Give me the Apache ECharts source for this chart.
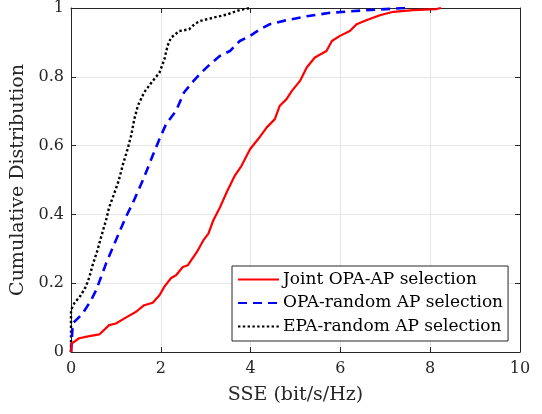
<!DOCTYPE html>
<html>
<head>
<meta charset="utf-8">
<script src="https://cdn.jsdelivr.net/npm/echarts@6/dist/echarts.min.js"></script>
<style>html,body{margin:0;padding:0;background:#fff}#c{width:542px;height:414px}</style>
</head>
<body>
<div id="c"></div>
<script>
const seriesNames = ['Joint OPA-AP selection', 'OPA-random AP selection', 'EPA-random AP selection'];
const xTicks = [0, 2, 4, 6, 8, 10];
const yTicks = [0, 0.2, 0.4, 0.6, 0.8, 1];

const jointX = [0, 0.02, 0.18, 0.41, 0.63, 0.85, 1.0, 1.22, 1.45, 1.63, 1.82, 1.97, 2.08, 2.23, 2.34, 2.49, 2.60, 2.80, 2.95, 3.06, 3.17, 3.32, 3.47, 3.65, 3.80, 3.99, 4.17, 4.36, 4.54, 4.65, 4.80, 4.92, 5.10, 5.25, 5.43, 5.69, 5.81, 5.99, 6.21, 6.36, 6.59, 6.88, 7.18, 7.62, 8.14, 8.24];
const jointY = [0, 0.025, 0.04, 0.046, 0.051, 0.078, 0.083, 0.10, 0.117, 0.136, 0.143, 0.165, 0.19, 0.215, 0.223, 0.247, 0.252, 0.29, 0.325, 0.344, 0.383, 0.421, 0.465, 0.513, 0.542, 0.59, 0.619, 0.653, 0.677, 0.716, 0.735, 0.759, 0.788, 0.827, 0.856, 0.875, 0.904, 0.919, 0.933, 0.953, 0.965, 0.979, 0.989, 0.994, 0.997, 1.0];

const opaX = [0, 0.04, 0.26, 0.45, 0.56, 0.67, 0.78, 1.0, 1.22, 1.37, 1.60, 1.82, 1.97, 2.12, 2.34, 2.52, 2.73, 2.87, 3.10, 3.32, 3.54, 3.76, 3.99, 4.21, 4.43, 4.78, 5.25, 5.77, 6.51, 7.18, 7.44];
const opaY = [0, 0.083, 0.112, 0.151, 0.18, 0.218, 0.257, 0.325, 0.392, 0.431, 0.499, 0.571, 0.619, 0.663, 0.701, 0.755, 0.788, 0.808, 0.837, 0.861, 0.875, 0.904, 0.919, 0.938, 0.953, 0.964, 0.976, 0.986, 0.993, 0.998, 1.0];

const epaX = [0, 0, 0.07, 0.22, 0.33, 0.41, 0.48, 0.59, 0.67, 0.78, 0.85, 0.96, 1.06, 1.15, 1.26, 1.34, 1.41, 1.49, 1.63, 1.82, 1.97, 2.08, 2.15, 2.23, 2.41, 2.63, 2.75, 2.87, 3.17, 3.47, 3.76, 3.99];
const epaY = [0, 0.122, 0.141, 0.165, 0.19, 0.218, 0.252, 0.296, 0.334, 0.383, 0.421, 0.46, 0.497, 0.542, 0.59, 0.629, 0.677, 0.716, 0.755, 0.788, 0.812, 0.851, 0.89, 0.914, 0.933, 0.938, 0.953, 0.962, 0.972, 0.981, 0.994, 1.0];

const pairs = (xs, ys) => xs.map((x, i) => [x, ys[i]]);
const FONT = 'DejaVu Serif';
const AX = '#262626';

const chart = echarts.init(document.getElementById('c'), null, {renderer: 'canvas'});
const baseAxis = {
  type: 'value',
  axisLine: {show: true, onZero: false, lineStyle: {color: AX, width: 1}},
  axisTick: {show: true, inside: true, length: 5, lineStyle: {color: AX}},
  splitLine: {show: false},
};
chart.setOption({
  backgroundColor: '#fff',
  animation: false,
  grid: {left: 71, right: 22, top: 7, bottom: 62, containLabel: false},
  xAxis: [
    Object.assign({}, baseAxis, {
      min: 0, max: 10, interval: 2,
      name: 'SSE (bit/s/Hz)', nameLocation: 'middle', nameGap: 34,
      nameTextStyle: {fontFamily: FONT, fontSize: 19, color: AX},
      axisLabel: {fontFamily: FONT, fontSize: 16, color: AX, margin: 9,
        formatter: v => xTicks.indexOf(v) >= 0 ? String(v) : ''},
      splitLine: {show: true, lineStyle: {color: '#e6e6e6', width: 1}}
    }),
    Object.assign({}, baseAxis, {
      position: 'top', min: 0, max: 10, interval: 2, axisLabel: {show: false}
    })
  ],
  yAxis: [
    Object.assign({}, baseAxis, {
      min: 0, max: 1, interval: 0.2,
      name: 'Cumulative Distribution', nameLocation: 'middle', nameGap: 40,
      nameTextStyle: {fontFamily: FONT, fontSize: 19, color: AX},
      axisLabel: {fontFamily: FONT, fontSize: 16, color: AX, margin: 7,
        formatter: v => { const t = yTicks.find(t => Math.abs(t - v) < 1e-9); return t === undefined ? '' : String(+t.toFixed(1)); }},
      splitLine: {show: true, lineStyle: {color: '#e6e6e6', width: 1}}
    }),
    Object.assign({}, baseAxis, {
      position: 'right', min: 0, max: 1, interval: 0.2, axisLabel: {show: false}
    })
  ],
  legend: {
    orient: 'vertical',
    left: 232, top: 266,
    backgroundColor: '#fff',
    borderColor: AX, borderWidth: 1, borderRadius: 0,
    padding: [5, 5, 6, 5],
    itemWidth: 41, itemHeight: 14, itemGap: 6.5,
    itemStyle: {opacity: 0},
    textStyle: {fontFamily: FONT, fontSize: 17, color: '#000', padding: [0, 0, 0, -1]},
    data: seriesNames
  },
  series: [
    {name: seriesNames[0], type: 'line', data: pairs(jointX, jointY), symbol: 'none', showSymbol: false,
      lineStyle: {color: '#ff0000', width: 2.2}, itemStyle: {color: '#ff0000'}, z: 3},
    {name: seriesNames[1], type: 'line', data: pairs(opaX, opaY), symbol: 'none', showSymbol: false,
      lineStyle: {color: '#0000ff', width: 2.6, type: [9, 6]}, itemStyle: {color: '#0000ff'}, z: 2},
    {name: seriesNames[2], type: 'line', data: pairs(epaX, epaY), symbol: 'none', showSymbol: false,
      lineStyle: {color: '#000000', width: 2.4, type: [2.4, 2.4]}, itemStyle: {color: '#000'}, z: 1}
  ]
});
</script>
</body>
</html>
